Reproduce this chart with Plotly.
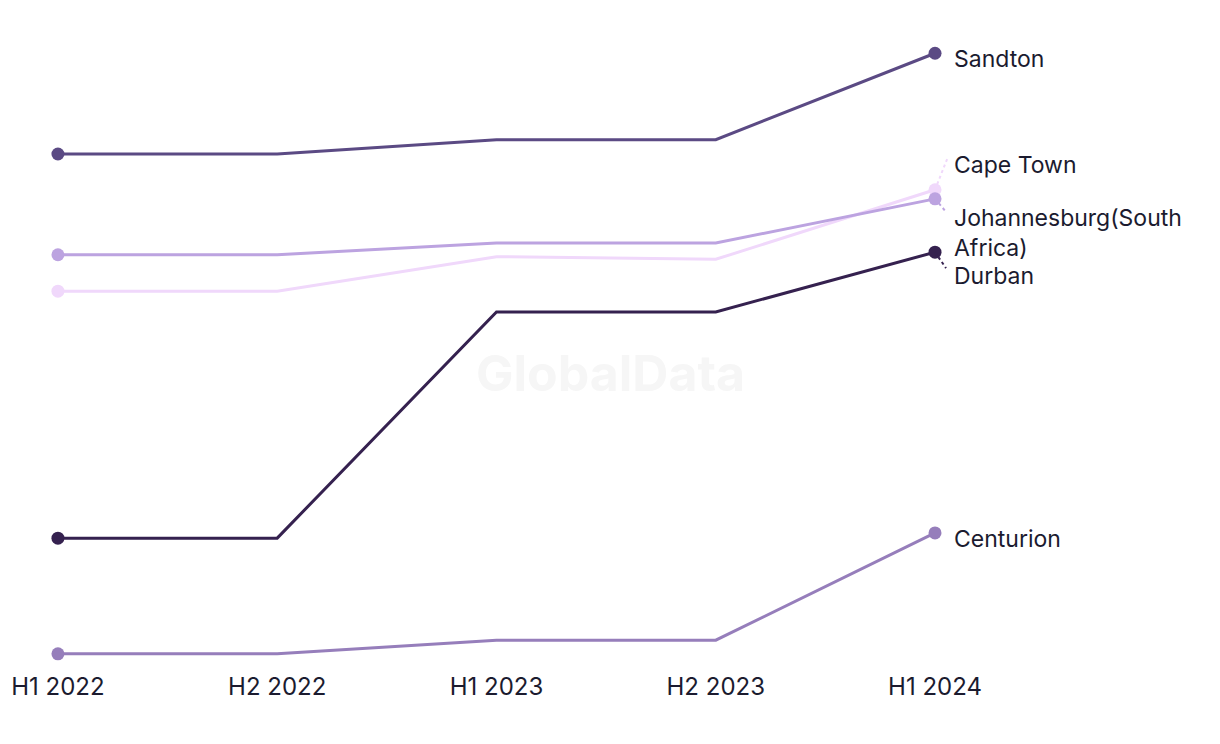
import plotly.graph_objects as go

periods = ["H1 2022", "H2 2022", "H1 2023", "H2 2023", "H1 2024"]
sandton = [84.0, 84.0, 86.2, 86.2, 99.5]
cape_town = [62.9, 62.9, 68.2, 67.8, 78.5]
johannesburg = [68.5, 68.5, 70.3, 70.3, 77.1]
durban = [24.9, 24.9, 59.7, 59.7, 68.9]
centurion = [7.1, 7.1, 9.2, 9.2, 25.7]

series = [
    ("Sandton", sandton, "#5B4A84"),
    ("Cape Town", cape_town, "#F0D8FB"),
    ("Johannesburg(South<br>Africa)", johannesburg, "#BCA3E0"),
    ("Durban", durban, "#35214F"),
    ("Centurion", centurion, "#967EBB"),
]
# label offsets (pixels) and leader lines
label_shift = {"Sandton": -6, "Cape Town": 25, "Johannesburg(South<br>Africa)": -34,
               "Durban": -24, "Centurion": -6}
leaders = {"Cape Town": (13, 33), "Johannesburg(South<br>Africa)": (11, -13), "Durban": (11, -16)}

xs = list(range(len(periods)))
fig = go.Figure()
for name, vals, col in series:
    fig.add_trace(go.Scatter(
        x=xs, y=vals, mode="lines", line=dict(color=col, width=3),
        hoverinfo="skip", showlegend=False))
    fig.add_trace(go.Scatter(
        x=[xs[0], xs[-1]], y=[vals[0], vals[-1]], mode="markers",
        marker=dict(color=col, size=13), cliponaxis=False,
        showlegend=False, name=name))
    fig.add_annotation(x=xs[-1], y=vals[-1], text=name, showarrow=False,
                       xanchor="left", yanchor="middle", align="left",
                       xshift=17, yshift=label_shift[name],
                       font=dict(family="Inter, sans-serif", size=23, color="#1B1B2F"))
    if name in leaders:
        dx, dy = leaders[name]
        fig.add_shape(type="line", xref="x", yref="y",
                      xsizemode="pixel", ysizemode="pixel",
                      xanchor=xs[-1], yanchor=vals[-1],
                      x0=0, x1=dx, y0=0, y1=dy,
                      line=dict(color=col, width=2, dash="3px,3px"))

fig.add_annotation(x=0.5, y=0.5, xref="paper", yref="paper",
                   text="<b>GlobalData</b>", showarrow=False,
                   xshift=4, yshift=-28,
                   font=dict(family="Inter, sans-serif", size=50, color="#F6F6F6"))

fig.update_layout(
    width=1220, height=744,
    margin=dict(l=28, r=52, t=12, b=82),
    paper_bgcolor="white", plot_bgcolor="white",
    xaxis=dict(tickmode="array", tickvals=xs, ticktext=periods,
               range=[-0.1, 5.099], showgrid=False, zeroline=False,
               showline=False, ticks="", automargin=False,
               tickfont=dict(family="Inter, sans-serif", size=24, color="#1B1B2F")),
    yaxis=dict(range=[4.615, 104.615], visible=False, showgrid=False,
               zeroline=False, automargin=False),
)
fig.write_html("out.html")
